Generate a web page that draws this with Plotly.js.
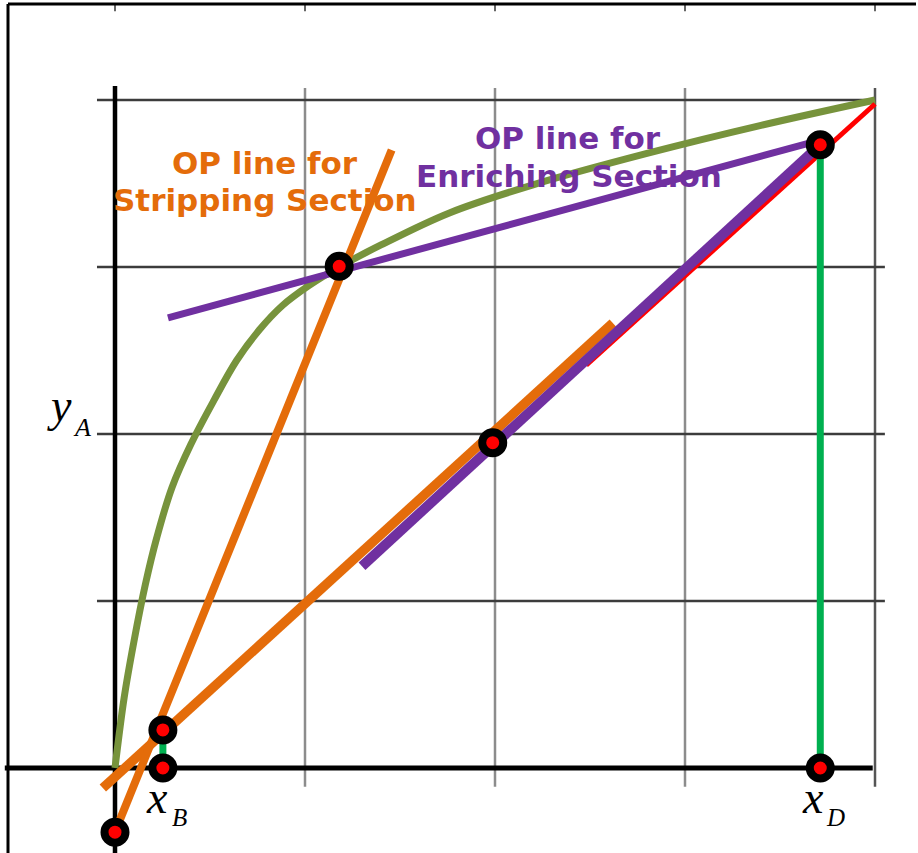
<!DOCTYPE html>
<html>
<head>
<meta charset="utf-8">
<script src="https://cdn.plot.ly/plotly-3.0.1.min.js"></script>
<style>
  html, body { margin: 0; padding: 0; background: #ffffff; }
  #chart { width: 918px; height: 853px; }
</style>
</head>
<body>
<div id="chart"></div>
<script>
// McCabe-Thiele style construction: equilibrium curve, operating lines, key points.

// Equilibrium curve (vapour mole fraction vs liquid mole fraction)
const eqX = [0, 0.012, 0.025, 0.04, 0.055, 0.075, 0.1, 0.13, 0.16, 0.19, 0.22, 0.255, 0.295, 0.35, 0.44, 0.55, 0.7, 0.85, 1.0];
const eqY = [0, 0.105, 0.19, 0.275, 0.345, 0.42, 0.485, 0.55, 0.61, 0.656, 0.692, 0.722, 0.750, 0.783, 0.831, 0.873, 0.920, 0.962, 1.0];

// Diagonal y = x (upper visible part)
const diagX = [0.62, 1.0];
const diagY = [0.603, 0.994];

// Feed-side diagonal segments
const feedLowX = [-0.016, 0.655];
const feedLowY = [-0.030, 0.666];
const feedHighX = [0.325, 0.928];
const feedHighY = [0.302, 0.933];

// Operating line for the enriching section
const enrichX = [0.0697, 0.928];
const enrichY = [0.674, 0.940];

// Operating line for the stripping section
const stripX = [-0.0026, 0.364];
const stripY = [-0.103, 0.925];

// Vertical drop lines at x_D and x_B
const dropDX = [0.928, 0.928];
const dropDY = [0.933, 0];
const dropBX = [0.063, 0.063];
const dropBY = [0.057, 0];

// Marked points
const ptX = [0.928, 0.928, 0.295, 0.497, 0.063, 0.063, 0];
const ptY = [0.933, 0, 0.751, 0.487, 0.057, 0, -0.096];

// Grid positions
const gridVals = [0.25, 0.5, 0.75, 1.0];

// Text labels
const stripLabel = ["OP line for", "Stripping Section"];
const enrichLabel = ["OP line for", "Enriching Section"];

const C = {
  eq: '#77933C', orange: '#E46C0A', purple: '#7030A0',
  red: '#FF0000', green: '#00B050'
};

function seg(x, y, color, width) {
  return { x: x, y: y, mode: 'lines', type: 'scatter', hoverinfo: 'skip',
           line: { color: color, width: width } };
}

const traces = [
  { x: eqX, y: eqY, mode: 'lines', type: 'scatter', hoverinfo: 'skip',
    line: { color: C.eq, width: 7, shape: 'spline', smoothing: 1 } },
  seg(diagX, diagY, C.red, 5),
  seg(feedLowX, feedLowY, C.orange, 9.5),
  seg(feedHighX, feedHighY, C.purple, 10),
  seg(enrichX, enrichY, C.purple, 7),
  seg(stripX, stripY, C.orange, 8),
  seg(dropDX, dropDY, C.green, 7),
  seg(dropBX, dropBY, C.green, 7),
  { x: ptX, y: ptY, mode: 'markers', type: 'scatter', hoverinfo: 'skip',
    marker: { size: 21, color: C.red, line: { color: '#000000', width: 8 } } }
];

const shapes = [];
// vertical grid lines
gridVals.forEach(v => {
  shapes.push({ type: 'line', layer: 'below', xref: 'x', yref: 'y',
    x0: v, x1: v, y0: 1.018, y1: -0.028,
    line: { color: v === 1 ? '#555555' : '#8c8c8c', width: 2.5 } });
  // small ticks on the top frame
  shapes.push({ type: 'line', layer: 'below', xref: 'x', yref: 'y',
    x0: v, x1: v, y0: 1.1437, y1: 1.133, line: { color: '#666666', width: 2 } });
});
shapes.push({ type: 'line', layer: 'below', xref: 'x', yref: 'y',
  x0: 0, x1: 0, y0: 1.1437, y1: 1.133, line: { color: '#666666', width: 2 } });
// horizontal grid lines
gridVals.forEach(v => {
  shapes.push({ type: 'line', layer: 'below', xref: 'x', yref: 'y',
    x0: -0.0237, x1: v === 1 ? 1.0 : 1.013, y0: v, y1: v,
    line: { color: '#3c3c3c', width: 2.5 } });
});
// axes
shapes.push({ type: 'line', layer: 'below', xref: 'x', yref: 'y',
  x0: 0, x1: 0, y0: 1.021, y1: -0.2, line: { color: '#000000', width: 4.5 } });
shapes.push({ type: 'line', layer: 'below', xref: 'x', yref: 'y',
  x0: -0.145, x1: 0.997, y0: 0, y1: 0, line: { color: '#000000', width: 5 } });
// outer frame (left and top)
shapes.push({ type: 'line', xref: 'paper', yref: 'paper',
  x0: 8 / 918, x1: 8 / 918, y0: -0.01, y1: 1 - 4 / 853, line: { color: '#000000', width: 3 } });
shapes.push({ type: 'line', xref: 'paper', yref: 'paper',
  x0: 8 / 918, x1: 916 / 918, y0: 1 - 4 / 853, y1: 1 - 4 / 853, line: { color: '#000000', width: 3 } });

const boldFont = (color) => ({ family: 'DejaVu Sans, Verdana, sans-serif', size: 31, color: color, weight: 'bold' });
const serif = (size) => ({ family: 'Liberation Serif, Times New Roman, serif', size: size, color: '#000000', style: 'italic' });

function note(text, x, y, font) {
  return { text: text, x: x, y: y, xref: 'x', yref: 'y', showarrow: false,
           xanchor: 'center', yanchor: 'middle', font: font };
}

const annotations = [
  note(stripLabel[0], 0.197, 0.905, boldFont(C.orange)),
  note(stripLabel[1], 0.198, 0.850, boldFont(C.orange)),
  note(enrichLabel[0], 0.596, 0.943, boldFont(C.purple)),
  note(enrichLabel[1], 0.598, 0.886, boldFont(C.purple)),
  note('<i>x</i>', 0.918, -0.0442, serif(46)),
  note('<i>D</i>', 0.948, -0.0745, serif(25)),
  note('<i>x</i>', 0.0559, -0.0442, serif(46)),
  note('<i>B</i>', 0.0845, -0.0745, serif(25)),
  note('<i>y</i>', -0.0724, 0.5427, serif(46)),
  note('<i>A</i>', -0.0438, 0.5096, serif(26))
];

const layout = {
  width: 918, height: 853, autosize: false,
  margin: { l: 0, r: 0, t: 0, b: 0, pad: 0 },
  paper_bgcolor: '#ffffff', plot_bgcolor: '#ffffff',
  showlegend: false,
  xaxis: { range: [-115 / 760, 803 / 760], visible: false, fixedrange: true },
  yaxis: { range: [-85 / 668, 768 / 668], visible: false, fixedrange: true },
  shapes: shapes,
  annotations: annotations
};

Plotly.newPlot('chart', traces, layout, { staticPlot: true, displayModeBar: false });
</script>
</body>
</html>
